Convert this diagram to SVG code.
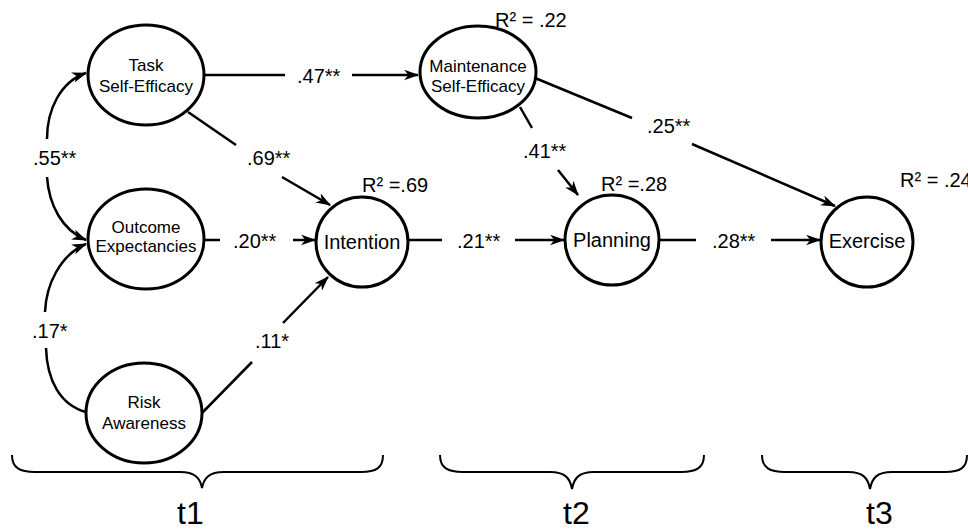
<svg xmlns="http://www.w3.org/2000/svg" width="968" height="529" viewBox="0 0 968 529">
<style>
.node ellipse{fill:#fff;stroke:#000;stroke-width:3}
.nt{font-family:"Liberation Sans",Arial,sans-serif;font-size:17px;text-anchor:middle;fill:#000}
.big{font-size:20px}
.lbl{font-family:"Liberation Sans",Arial,sans-serif;font-size:20px;fill:#000}
.edge{stroke:#000;stroke-width:2.5;fill:none}
.arr{marker-end:url(#ah)}
.brace{stroke:#000;stroke-width:2;fill:none}
.t{font-family:"Liberation Sans",Arial,sans-serif;font-size:32px;fill:#000}
</style>
<defs>
<marker id="ah" viewBox="0 0 14 10" refX="13" refY="5" markerWidth="15" markerHeight="11" markerUnits="userSpaceOnUse" orient="auto">
<path d="M0,0 L14,5 L0,10 L4,5 z" fill="#000"/>
</marker>
</defs>
<g id="connectors">
<path class="edge" d="M204,75 L285,75"/>
<path class="edge arr" d="M352,75 L418,75"/>
<path class="edge" d="M188,112 L236,145"/>
<path class="edge arr" d="M282,177 L330,205"/>
<path class="edge" d="M204,240 L220,240"/>
<path class="edge arr" d="M293,240 L315,240"/>
<path class="edge" d="M202,413 L252,362"/>
<path class="edge arr" d="M283,323 L328,277"/>
<path class="edge" d="M408,240 L442,240"/>
<path class="edge arr" d="M515,240 L564,240"/>
<path class="edge" d="M659,240 L696,240"/>
<path class="edge arr" d="M771,240 L820,240"/>
<path class="edge" d="M520,107 L532,128"/>
<path class="edge arr" d="M558,170 L578,195"/>
<path class="edge" d="M535,78 L632,118"/>
<path class="edge arr" d="M692,144 L835,206"/>
<path class="edge arr" d="M47,139 C47,110 60,82 86,73"/>
<path class="edge arr" d="M47,177 C49,205 62,230 86,240"/>
<path class="edge arr" d="M45,312 C46,285 60,255 86,244"/>
<path class="edge" d="M46,348 C47,380 60,405 86,412"/>
<text class="lbl" x="297" y="83">.47**</text>
<text class="lbl" x="247" y="165">.69**</text>
<text class="lbl" x="33" y="165">.55**</text>
<text class="lbl" x="32" y="338">.17*</text>
<text class="lbl" x="233" y="248">.20**</text>
<text class="lbl" x="255" y="348">.11*</text>
<text class="lbl" x="457" y="248">.21**</text>
<text class="lbl" x="712" y="248">.28**</text>
<text class="lbl" x="523" y="158">.41**</text>
<text class="lbl" x="647" y="133">.25**</text>
</g>
<g id="task" class="node"><ellipse cx="146" cy="75" rx="58" ry="50"/><text class="nt" x="146" y="71">Task</text><text class="nt" x="146" y="92">Self-Efficacy</text></g>
<g id="outcome" class="node"><ellipse cx="146" cy="239" rx="58" ry="50"/><text class="nt" x="146" y="233">Outcome</text><text class="nt" x="146" y="252">Expectancies</text></g>
<g id="risk" class="node"><ellipse cx="144" cy="413" rx="58" ry="50"/><text class="nt" x="144" y="408">Risk</text><text class="nt" x="144" y="429">Awareness</text></g>
<g id="maintenance" class="node"><ellipse cx="478" cy="72" rx="58" ry="46"/><text class="nt" x="478" y="72">Maintenance</text><text class="nt" x="478" y="92">Self-Efficacy</text><text class="lbl" x="495" y="27">R² = .22</text></g>
<g id="intention" class="node"><ellipse cx="362" cy="242" rx="46" ry="45"/><text class="nt big" x="362" y="249">Intention</text><text class="lbl" x="362" y="192">R² =.69</text></g>
<g id="planning" class="node"><ellipse cx="612" cy="240" rx="47" ry="45"/><text class="nt big" x="612" y="247">Planning</text><text class="lbl" x="601" y="191">R² =.28</text></g>
<g id="exercise" class="node"><ellipse cx="867" cy="242" rx="46" ry="45"/><text class="nt big" x="867" y="248">Exercise</text><text class="lbl" x="900" y="187">R² = .24</text></g>
<g id="braces">
<path class="brace" d="M12,455 C12,468 20,472 35,472 L180,472 C195,472 200,478 202,488 C204,478 209,472 224,472 L361,472 C376,472 383,468 383,455"/>
<path class="brace" d="M440,455 C440,468 448,472 463,472 L550,472 C565,472 570,478 572,489 C574,478 579,472 594,472 L681,472 C696,472 704,468 704,455"/>
<path class="brace" d="M762,455 C762,468 770,472 785,472 L848,472 C863,472 868,478 870,489 C872,478 877,472 892,472 L945,472 C960,472 967,468 967,455"/>
<text class="t" x="177" y="524">t1</text>
<text class="t" x="563" y="524">t2</text>
<text class="t" x="866" y="524">t3</text>
</g>
</svg>
